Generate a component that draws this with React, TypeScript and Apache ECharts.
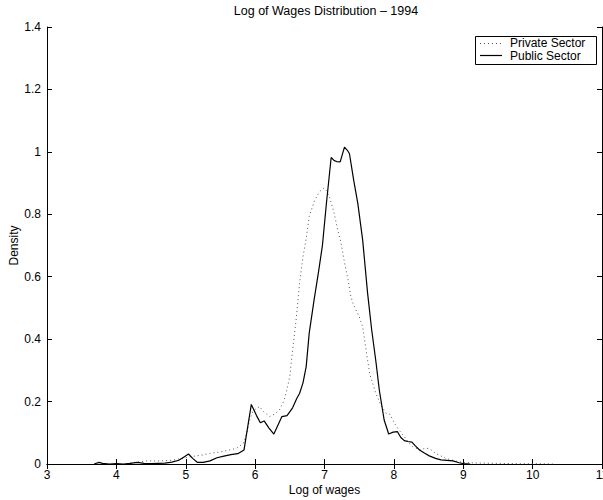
import React, { useEffect, useRef } from "react";
import * as echarts from "echarts";

const titleText = "Log of Wages Distribution – 1994";
const xName = "Log of wages";
const yName = "Density";
const seriesNames = ["Private Sector", "Public Sector"];

const privateSector: [number, number][] = [
  [4.2, 0.003], [4.3, 0.006], [4.43, 0.01], [4.55, 0.01], [4.67, 0.01], [4.8, 0.012],
  [4.9, 0.016], [5.0, 0.02], [5.06, 0.023], [5.15, 0.026], [5.25, 0.029], [5.345, 0.034],
  [5.45, 0.037], [5.53, 0.04], [5.63, 0.045], [5.73, 0.05], [5.83, 0.066], [5.88, 0.1],
  [5.92, 0.141], [5.97, 0.17], [6.02, 0.178], [6.065, 0.184], [6.12, 0.168], [6.21, 0.152],
  [6.28, 0.16], [6.35, 0.173], [6.42, 0.205], [6.46, 0.24], [6.5, 0.28], [6.54, 0.365],
  [6.59, 0.46], [6.64, 0.579], [6.69, 0.664], [6.74, 0.728], [6.78, 0.793], [6.86, 0.846],
  [6.93, 0.873], [6.99, 0.884], [7.03, 0.875], [7.07, 0.857], [7.14, 0.803], [7.19, 0.75],
  [7.24, 0.707], [7.29, 0.643], [7.34, 0.59], [7.38, 0.536], [7.41, 0.515], [7.46, 0.49],
  [7.5, 0.472], [7.55, 0.44], [7.6, 0.365], [7.65, 0.29], [7.74, 0.226], [7.81, 0.19],
  [7.89, 0.162], [7.94, 0.16], [8.01, 0.13], [8.07, 0.11], [8.15, 0.088], [8.22, 0.066],
  [8.27, 0.056], [8.37, 0.045], [8.45, 0.05], [8.51, 0.05], [8.6, 0.034], [8.75, 0.018],
  [8.88, 0.01], [9.0, 0.005], [9.2, 0.003], [9.5, 0.002], [9.8, 0.001], [10.1, 0.001], [10.3, 0],
];

const publicSector: [number, number][] = [
  [3.68, 0], [3.75, 0.005], [3.8, 0.002], [3.9, 0], [4.0, 0.001], [4.1, 0], [4.2, 0.002],
  [4.3, 0.005], [4.4, 0.002], [4.5, 0.001], [4.6, 0.002], [4.7, 0.003], [4.8, 0.006],
  [4.9, 0.012], [4.97, 0.022], [5.04, 0.032], [5.1, 0.018], [5.17, 0.005], [5.25, 0.005],
  [5.35, 0.01], [5.45, 0.02], [5.55, 0.025], [5.65, 0.03], [5.75, 0.033], [5.84, 0.045],
  [5.945, 0.191], [6.02, 0.155], [6.075, 0.132], [6.13, 0.138], [6.2, 0.115], [6.27, 0.096],
  [6.33, 0.125], [6.386, 0.152], [6.46, 0.155], [6.54, 0.18], [6.6, 0.21], [6.64, 0.226],
  [6.69, 0.26], [6.736, 0.312], [6.78, 0.42], [6.85, 0.526], [6.91, 0.61], [6.97, 0.7],
  [7.03, 0.84], [7.096, 0.982], [7.14, 0.972], [7.177, 0.969], [7.226, 0.968], [7.288, 1.015],
  [7.33, 1.005], [7.36, 0.994], [7.42, 0.91], [7.48, 0.835], [7.55, 0.718], [7.62, 0.55],
  [7.68, 0.43], [7.74, 0.33], [7.79, 0.237], [7.86, 0.141], [7.925, 0.096], [7.99, 0.102],
  [8.05, 0.104], [8.1, 0.085], [8.15, 0.075], [8.2, 0.072], [8.26, 0.07], [8.31, 0.058],
  [8.37, 0.045], [8.44, 0.035], [8.51, 0.026], [8.6, 0.018], [8.68, 0.013], [8.85, 0.01],
  [8.94, 0.004], [9.0, 0.001], [9.1, 0],
];

const FONT = "'Liberation Sans', Arial, Helvetica, sans-serif";

export default function App() {
  const ref = useRef<HTMLDivElement>(null);
  useEffect(() => {
    document.body.style.margin = "0";
    const chart = echarts.init(ref.current!, undefined, { renderer: "svg" });
    const axisCommon = {
      axisLine: { show: true, lineStyle: { color: "#000", width: 1 } },
      axisTick: { show: true, inside: true, length: 5, lineStyle: { color: "#000" } },
      splitLine: { show: false },
    };
    chart.setOption({
      animation: false,
      backgroundColor: "#fff",
      grid: { left: 47, right: 1, top: 27, bottom: 36, containLabel: false, outerBoundsMode: "none" },
      xAxis: [
        {
          type: "value", min: 3, max: 11, interval: 1, position: "bottom",
          name: xName, nameLocation: "middle", nameGap: 20, nameMoveOverlap: false,
          nameTextStyle: { fontFamily: FONT, fontSize: 12, color: "#000" },
          axisLabel: { fontFamily: FONT, fontSize: 12, color: "#000", margin: 5, showMaxLabel: true, hideOverlap: false },
          ...axisCommon,
        },
        {
          type: "value", min: 3, max: 11, interval: 1, position: "top",
          axisLabel: { show: false }, ...axisCommon,
        },
      ],
      yAxis: [
        {
          type: "value", min: 0, max: 1.4, interval: 0.2, position: "left",
          name: yName, nameLocation: "middle", nameGap: 27, nameMoveOverlap: false,
          nameTextStyle: { fontFamily: FONT, fontSize: 12, color: "#000" },
          axisLabel: { fontFamily: FONT, fontSize: 12, color: "#000", margin: 6 },
          ...axisCommon,
        },
        {
          type: "value", min: 0, max: 1.4, interval: 0.2, position: "right",
          axisLabel: { show: false }, ...axisCommon,
        },
      ],
      series: [
        {
          name: seriesNames[0], type: "line", data: privateSector, showSymbol: false, symbol: "none",
          lineStyle: { color: "#555", width: 1, type: [1, 3] }, xAxisIndex: 0, yAxisIndex: 0,
        },
        {
          name: seriesNames[1], type: "line", data: publicSector, showSymbol: false, symbol: "none",
          lineStyle: { color: "#000", width: 1.2, type: "solid" }, xAxisIndex: 0, yAxisIndex: 0,
        },
      ],
      graphic: [
        {
          type: "text", x: 326, y: 11,
          style: { text: titleText, fontFamily: FONT, fontSize: 12.5, fill: "#000", align: "center", verticalAlign: "middle" },
        },
        {
          type: "rect", shape: { x: 475.5, y: 36.5, width: 121, height: 28 },
          style: { fill: "#fff", stroke: "#000", lineWidth: 1 },
        },
        {
          type: "line", shape: { x1: 480, y1: 43.5, x2: 502, y2: 43.5 },
          style: { stroke: "#555", lineWidth: 1, lineDash: [1, 3] },
        },
        {
          type: "line", shape: { x1: 480, y1: 55.5, x2: 502, y2: 55.5 },
          style: { stroke: "#000", lineWidth: 1.2 },
        },
        {
          type: "text", x: 510, y: 43,
          style: { text: seriesNames[0], fontFamily: FONT, fontSize: 12, lineHeight: 11, fill: "#000", verticalAlign: "middle" },
        },
        {
          type: "text", x: 510, y: 55.5,
          style: { text: seriesNames[1], fontFamily: FONT, fontSize: 12, lineHeight: 11, fill: "#000", verticalAlign: "middle" },
        },
      ],
    });
    return () => chart.dispose();
  }, []);
  return <div ref={ref} style={{ position: "fixed", left: 0, top: 0, width: 603, height: 500 }} />;
}
